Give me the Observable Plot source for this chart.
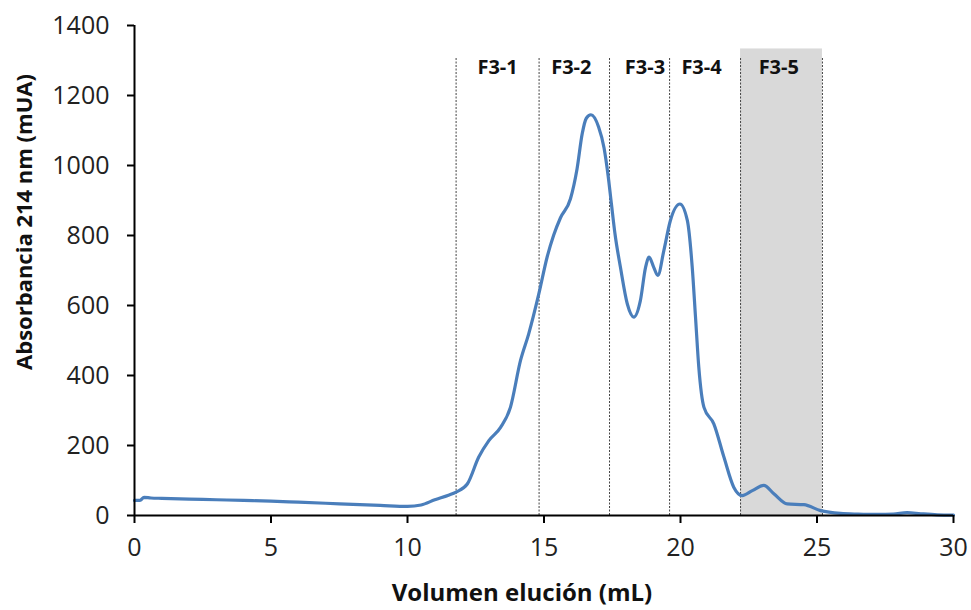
<!DOCTYPE html>
<html>
<head>
<meta charset="utf-8">
<script src="https://cdn.jsdelivr.net/npm/d3@7"></script>
<script src="https://cdn.jsdelivr.net/npm/@observablehq/plot@0.6"></script>
<style>
  html, body { margin: 0; padding: 0; background: #fff; }
  #chart { width: 971px; height: 610px; }
  svg { font-family: "Open Sans", sans-serif; }
</style>
</head>
<body>
<div id="chart"></div>
<script>
// Elution volume (mL) and absorbance at 214 nm (mUA)
const volume = [0, 0.2, 0.35, 0.6, 1, 2, 3, 4, 5, 6, 7, 8, 9, 10, 10.5, 11, 11.5, 11.78,
  12.19, 12.61, 12.98, 13.41, 13.77, 14.14, 14.44, 14.81, 15.12, 15.35, 15.6, 15.97, 16.21,
  16.4, 16.55, 16.72, 17.0, 17.2, 17.35, 17.47, 17.6, 17.8, 18.05, 18.29, 18.53, 18.72, 18.85,
  19.02, 19.17, 19.39, 19.63, 19.98, 20.25, 20.43, 20.55, 20.67, 20.86, 21.22, 21.59,
  21.95, 22.26, 22.63, 23.05, 23.42, 23.91, 24.52, 25.13, 25.86, 26.5, 27.2, 27.8,
  28.3, 28.8, 29.4, 30];
const absorbance = [43, 43, 52, 50, 49, 47, 45, 43, 41, 38, 35, 32, 29, 26, 30, 45, 58, 67,
  90, 167, 214, 252, 309, 443, 519, 633, 740, 800, 850, 905, 990,
  1091, 1135, 1145, 1110, 1050, 970, 890, 805, 709, 605, 567, 614, 709, 738,
  709, 686, 757, 843, 890, 843, 709, 567, 424, 309, 262, 167,
  81, 57, 71, 86, 62, 33, 31, 14, 6, 4, 3, 4,
  8, 5, 2, 1];

// Fraction boundaries (mL) and labels
const fractionBounds = [11.78, 14.82, 17.4, 19.6, 22.2, 25.2];
const fractionNames = ["F3-1", "F3-2", "F3-3", "F3-4", "F3-5"];
const fractionLabelX = [13.3, 16.0, 18.7, 20.77, 23.6];
const shadedFraction = { x1: 22.2, x2: 25.2, top: 1333 };
const boundTop = 1308;
const labelY = 1280;

const xTicks = [0, 5, 10, 15, 20, 25, 30];
const yTicks = [0, 200, 400, 600, 800, 1000, 1200, 1400];

const series = volume.map((v, i) => ({ v, a: absorbance[i] }));
const labels = fractionNames.map((n, i) => ({ n, x: fractionLabelX[i] }));

const W = 971, H = 610;
const plot = Plot.plot({
  width: W,
  height: H,
  marginLeft: 134,
  marginRight: 18,
  marginTop: 25,
  marginBottom: 95,
  style: { fontFamily: "'Open Sans', sans-serif", background: "#fff", color: "#222" },
  x: { domain: [0, 30] },
  y: { domain: [0, 1400] },
  marks: [
    Plot.rect([shadedFraction], { x1: "x1", x2: "x2", y1: 0, y2: "top", fill: "#d9d9d9" }),
    Plot.ruleX(fractionBounds, { y1: 0, y2: boundTop, stroke: "#444", strokeWidth: 1, strokeDasharray: "2,1.5" }),
    Plot.text(labels, { x: "x", y: labelY, text: "n", fontSize: 20, fontWeight: "bold", fill: "#111" }),
    Plot.line(series, { x: "v", y: "a", stroke: "#4a7ebb", strokeWidth: 3.2, curve: "monotone-x" }),
    Plot.ruleY([0], { stroke: "#000", strokeWidth: 2 }),
    Plot.ruleX([0], { y1: 0, y2: 1400, stroke: "#000", strokeWidth: 2 }),
    Plot.axisX({ ticks: xTicks, tickSize: 8, tickPadding: 15, fontSize: 25, tickFormat: d3.format("d"), label: null, strokeWidth: 2, stroke: "#000", fill: "#222" }),
    Plot.axisY({ ticks: yTicks, tickSize: 7, tickPadding: 18, fontSize: 25, tickFormat: d3.format("d"), label: null, strokeWidth: 2, stroke: "#000", fill: "#222" })
  ]
});
document.getElementById("chart").appendChild(plot);

const svg = d3.select(plot);
svg.append("text")
  .attr("x", 522).attr("y", 601)
  .attr("text-anchor", "middle")
  .attr("font-size", 24).attr("font-weight", "bold").attr("fill", "#111")
  .text("Volumen elución (mL)");
svg.append("text")
  .attr("transform", "translate(32,222) rotate(-90)")
  .attr("text-anchor", "middle")
  .attr("font-size", 22).attr("font-weight", "bold").attr("fill", "#111")
  .text("Absorbancia 214 nm (mUA)");
</script>
</body>
</html>
